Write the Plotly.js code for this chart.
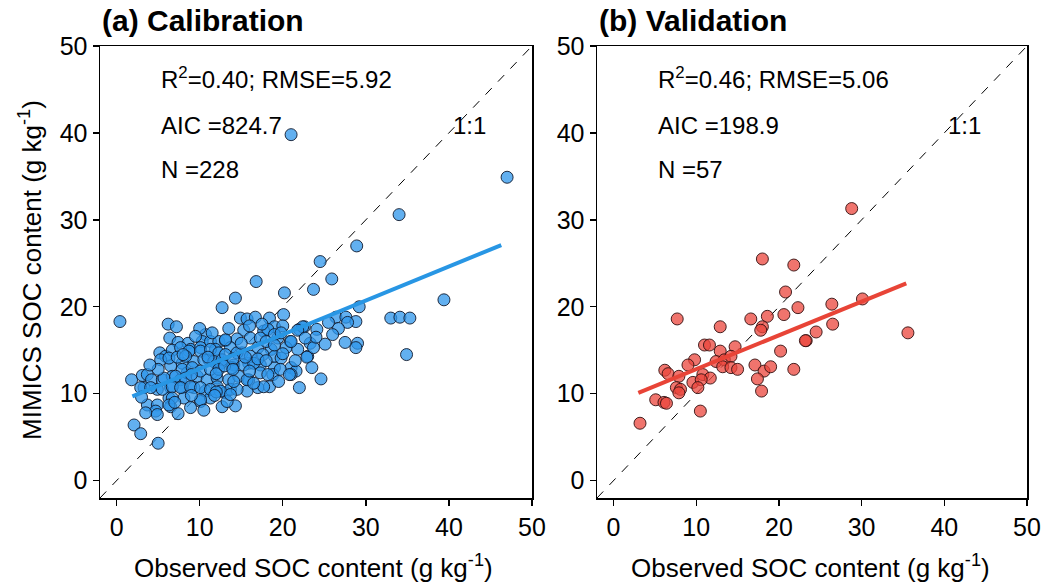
<!DOCTYPE html>
<html>
<head>
<meta charset="utf-8">
<script src="https://cdn.plot.ly/plotly-3.0.1.min.js"></script>
<style>html,body{margin:0;padding:0;background:#fff;}#chart{width:1046px;height:586px;}</style>
</head>
<body>
<div id="chart"></div>
<script>
// ---- Data ----
const calObs = [0.4,12.7,6.2,7.2,14.3,16.8,20.2,14.9,15.7,16.7,18.4,20.1,19.0,15.3,17.7,10.7,6.4,7.4,8.6,10.3,11.3,12.3,13.1,14.5,16.1,19.4,20.9,22.0,22.6,5.2,5.9,6.7,8.9,10.1,11.9,13.7,15.1,17.0,18.6,20.4,21.8,23.0,6.5,7.9,9.3,11.1,12.5,14.1,15.9,17.3,19.0,21.0,21.6,1.8,3.1,3.7,4.2,5.5,6.7,7.7,8.5,9.7,10.9,12.1,13.5,14.7,15.9,17.0,18.4,18.8,22.0,3.3,4.9,6.5,7.9,9.3,10.7,12.1,13.1,13.7,15.7,3.7,4.9,6.3,6.5,8.1,8.9,10.1,11.3,12.7,14.3,4.7,4.9,7.4,2.1,2.9,5.0,13.3,14.5,
  28.9,24.5,25.9,23.7,39.4,29.2,26.4,27.6,28.8,27.8,26.7,33.0,34.1,35.3,22.4,21.8,24.1,21.0,23.3,25.1,23.7,22.9,29.0,28.8,34.9,21.0,24.6,34.0,47.0,21.0,
  18.2,17.3,19.0,13.1,
  7.7,8.7,10.1,11.3,12.3,5.3,6.3,7.3,8.3,10.5,11.7,12.7,7.9,9.1,10.1,11.3,12.3,5.7,7.1,8.3,2.9,4.1,5.5,6.7,7.7,8.9,10.1,11.3,12.5,6.7,10.1,6.3,3.5,
  13.1,14.5,16.1,17.6,19.0,19.8,13.9,15.3,16.5,17.3,18.2,19.7,20.8,14.1,15.7,17.7,13.7,
  8.0,9.0,11.0,12.0,13.0,14.0,15.0,16.0,17.0,18.0,19.0,20.0,10.0,11.5,13.5,9.5,12.0,16.5,19.5,21.5,23.5,24.0,26.0,27.5,20.0,17.5,16.0,5.0,4.0,3.0,7.0,9.0,10.5,11.8,14.0,15.5,18.0,19.8,22.7,25.5];
const calSim = [18.3,19.9,18.0,17.7,21.0,22.9,21.6,18.7,18.6,18.8,18.7,19.1,17.7,17.3,17.2,16.8,16.4,15.9,15.8,16.0,16.0,16.0,16.1,16.3,16.4,16.4,16.0,17.4,17.7,14.7,14.3,15.0,15.1,15.3,15.1,15.3,14.7,15.3,15.1,15.3,15.1,14.3,13.2,13.5,13.7,13.9,13.5,13.3,13.5,13.3,13.0,13.0,12.6,11.6,12.1,12.2,11.6,11.6,12.0,11.6,12.4,12.0,11.6,11.8,11.6,12.0,11.6,10.7,10.8,12.2,10.7,10.7,10.5,10.7,10.7,10.7,10.3,10.8,10.1,10.5,10.3,8.7,8.7,9.5,8.5,9.5,8.4,9.1,9.5,8.5,8.6,8.0,7.6,7.7,6.4,5.4,4.3,9.1,10.5,
  27.0,25.2,23.2,22.0,20.8,20.0,18.8,18.8,18.3,18.2,17.5,18.7,18.8,18.7,17.7,17.3,17.4,16.0,15.8,15.7,15.3,14.2,15.8,15.3,14.5,12.2,11.7,30.6,34.9,39.8,
  17.4,16.4,16.8,16.2,
  15.3,14.9,14.9,15.1,14.7,13.9,14.1,14.2,14.3,13.9,13.7,13.9,12.8,13.0,12.6,12.8,12.8,11.8,12.0,11.8,10.7,10.7,10.5,10.8,10.7,10.8,10.7,10.5,10.3,9.5,9.3,8.7,7.8,
  14.5,14.7,14.3,14.5,14.3,14.1,13.0,13.3,13.5,12.4,12.2,12.8,12.2,11.4,11.6,10.8,9.9,
  14.5,12.2,14.2,12.3,13.2,14.0,15.8,12.6,14.0,16.0,15.6,14.6,17.5,17.0,17.5,16.6,10.2,11.2,11.4,13.8,13.0,16.5,16.8,15.9,17.8,18.0,17.8,12.8,13.3,9.6,9.0,9.8,8.1,9.8,12.8,14.2,13.8,17.0,16.4,18.2];

const valObs = [18.0,21.8,7.7,20.8,12.9,16.6,18.6,18.0,17.8,20.6,22.3,23.3,11.0,11.6,12.9,14.7,9.8,9.0,12.4,13.4,14.2,13.2,14.2,15.0,20.2,17.1,18.2,19.0,17.4,21.8,17.9,6.2,6.6,7.9,9.6,10.8,11.7,10.6,10.2,7.6,8.1,7.9,5.1,6.1,6.4,10.5,3.2,28.8,26.4,30.1,26.5,24.5,23.2,35.6];
const valSim = [25.5,24.8,18.6,21.7,17.7,18.6,18.9,17.7,17.3,19.1,19.9,16.1,15.6,15.6,14.9,15.4,13.9,13.3,13.7,13.9,14.3,13.1,13.0,12.8,14.9,13.3,12.6,13.1,11.7,12.8,10.3,12.7,12.3,12.0,11.3,12.2,11.8,11.6,10.7,10.7,10.5,10.1,9.3,9.0,8.9,8.0,6.6,31.3,20.3,20.9,18.0,17.1,16.1,17.0];

const calFitX = [1.9, 46.3];
const calFitY = [9.7, 27.1];
const valFitX = [3.0, 35.4];
const valFitY = [10.1, 22.7];
const oneToOne = [-2, 50];

const tickVals = [0, 10, 20, 30, 40, 50];
const calStats = ["R<sup>2</sup>=0.40; RMSE=5.92", "AIC =824.7", "N =228"];
const valStats = ["R<sup>2</sup>=0.46; RMSE=5.06", "AIC =198.9", "N =57"];
const panelTitles = ["<b>(a) Calibration</b>", "<b>(b) Validation</b>"];
const xTitle = "Observed SOC content (g kg<sup>-1</sup>)";
const yTitle = "MIMICS SOC content (g kg<sup>-1</sup>)";

// ---- Traces ----
const FONT = "Liberation Sans, Arial, sans-serif";
const traces = [
  {x: oneToOne, y: oneToOne, xaxis: 'x', yaxis: 'y', mode: 'lines', line: {color: '#000', width: 1, dash: 'dash'}, hoverinfo: 'skip', showlegend: false},
  {x: calObs, y: calSim, xaxis: 'x', yaxis: 'y', mode: 'markers', showlegend: false,
   marker: {size: 12, color: 'rgba(45,150,235,0.75)', line: {color: 'rgba(15,25,45,0.9)', width: 1}}},
  {x: calFitX, y: calFitY, xaxis: 'x', yaxis: 'y', mode: 'lines', line: {color: 'rgb(40,150,228)', width: 4}, showlegend: false},
  {x: oneToOne, y: oneToOne, xaxis: 'x2', yaxis: 'y2', mode: 'lines', line: {color: '#000', width: 1, dash: 'dash'}, hoverinfo: 'skip', showlegend: false},
  {x: valObs, y: valSim, xaxis: 'x2', yaxis: 'y2', mode: 'markers', showlegend: false,
   marker: {size: 12, color: 'rgba(235,70,60,0.75)', line: {color: 'rgba(50,15,15,0.9)', width: 1}}},
  {x: valFitX, y: valFitY, xaxis: 'x2', yaxis: 'y2', mode: 'lines', line: {color: 'rgb(232,68,55)', width: 4}, showlegend: false}
];

const W = 1046, H = 586;
const px = v => v / W, py = v => 1 - v / H;

function axis(domain, anchor) {
  return {
    domain: domain, anchor: anchor, range: [-2, 50], tickvals: tickVals, ticktext: tickVals.map(String),
    ticks: 'outside', ticklen: 6, tickwidth: 1.3, tickcolor: '#000',
    showline: true, mirror: true, linecolor: '#000', linewidth: 1.5,
    showgrid: false, zeroline: false, tickfont: {family: FONT, size: 25, color: '#000'}, fixedrange: true
  };
}

const annotations = [];
function statAnn(list, xr, yr) {
  const ys = [46.3, 40.9, 35.8];
  list.forEach((t, i) => annotations.push({xref: xr, yref: yr, x: 5.1, y: ys[i], text: t, showarrow: false, xanchor: 'left', yanchor: 'middle', font: {family: FONT, size: 24, color: '#000'}}));
  annotations.push({xref: xr, yref: yr, x: 42.5, y: 40.9, text: '1:1', showarrow: false, xanchor: 'center', yanchor: 'middle', font: {family: FONT, size: 24, color: '#000'}});
}
statAnn(calStats, 'x', 'y');
statAnn(valStats, 'x2', 'y2');
annotations.push({xref: 'paper', yref: 'paper', x: px(100), y: py(21), text: panelTitles[0], showarrow: false, xanchor: 'left', yanchor: 'middle', font: {family: FONT, size: 30, color: '#000'}});
annotations.push({xref: 'paper', yref: 'paper', x: px(597), y: py(21), text: panelTitles[1], showarrow: false, xanchor: 'left', yanchor: 'middle', font: {family: FONT, size: 30, color: '#000'}});
annotations.push({xref: 'paper', yref: 'paper', x: px(313), y: py(566), text: xTitle, showarrow: false, xanchor: 'center', yanchor: 'middle', font: {family: FONT, size: 26, color: '#000'}});
annotations.push({xref: 'paper', yref: 'paper', x: px(810), y: py(566), text: xTitle, showarrow: false, xanchor: 'center', yanchor: 'middle', font: {family: FONT, size: 26, color: '#000'}});
annotations.push({xref: 'paper', yref: 'paper', x: px(30), y: py(270), text: yTitle, showarrow: false, textangle: -90, xanchor: 'center', yanchor: 'middle', font: {family: FONT, size: 26, color: '#000'}});

const layout = {
  width: W, height: H, margin: {l: 0, r: 0, t: 0, b: 0},
  paper_bgcolor: '#fff', plot_bgcolor: '#fff', showlegend: false,
  xaxis: axis([px(100), px(532)], 'y'),
  yaxis: axis([py(498), py(46)], 'x'),
  xaxis2: axis([px(597), px(1027)], 'y2'),
  yaxis2: axis([py(498), py(46)], 'x2'),
  annotations: annotations
};

Plotly.newPlot('chart', traces, layout, {displayModeBar: false, staticPlot: true});
</script>
</body>
</html>
